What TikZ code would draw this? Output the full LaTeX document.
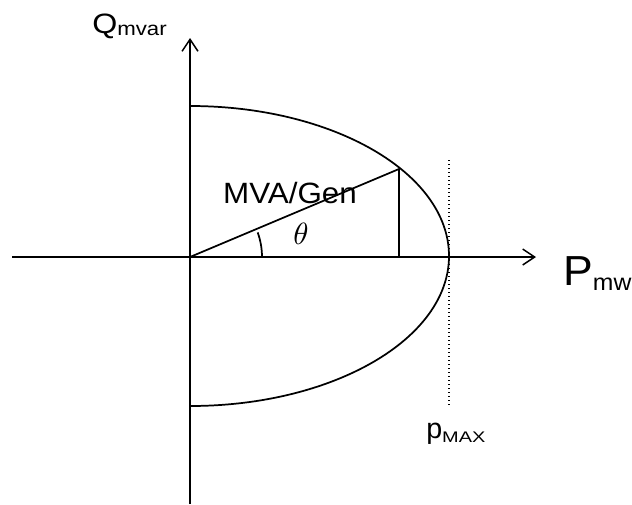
\documentclass[tikz,border=0pt]{standalone}
\usepackage{fontspec}
\setmainfont{Liberation Sans}
\usetikzlibrary{arrows.meta}
\begin{document}
\begin{tikzpicture}[x=0.75pt,y=-0.75pt,
  ax/.style={line width=1.3pt,-{Straight Barb[length=9pt,width=12pt,line width=1.1pt]}},
  ln/.style={line width=1.3pt},
  lbl/.style={inner sep=0pt,anchor=base west}]
\useasboundingbox (0,0) rectangle (632,504);
\coordinate (O) at (190,257);
\coordinate (xs) at (12,257);
\coordinate (xe) at (536,257);
\coordinate (ys) at (190,504);
\coordinate (ye) at (190,38);
\coordinate (P) at (399,169);
\coordinate (Pf) at (399,257);
\coordinate (Dt) at (449,160);
\coordinate (Db) at (449,405);
\draw[ax] (xs) -- (xe);
\draw[ax] (ys) -- (ye);
\draw[ln] (190,106) arc[start angle=-90,end angle=90,x radius=259,y radius=150];
\draw[ln] (O) -- (P) -- (Pf);
\draw[line width=1pt,dotted] (Dt) -- (Db);
\draw[ln] (262,257) arc[start angle=0,end angle=-20,radius=72];
\node[lbl,xscale=1.15] (q) at (92,33) {\fontsize{21}{21}\selectfont Q\raisebox{-1.5pt}{\fontsize{14.5}{14.5}\selectfont mvar}};
\node[lbl,xscale=1.06] (pmw) at (563,285) {\fontsize{31.5}{31.5}\selectfont P\raisebox{-3.75pt}{\fontsize{17.5}{17.5}\selectfont mw}};
\node[inner sep=0pt,xscale=1.07] (mva) at (290,193) {\fontsize{22}{22}\selectfont MVA/Gen};
\node[inner sep=0pt,scale=2.3] (th) at (301,234) {$\theta$};
\node[lbl] (pmax) at (426,438) {\fontsize{21.5}{21.5}\selectfont p\raisebox{-3pt}{\scalebox{1.3}[1]{\fontsize{11.5}{11.5}\selectfont MAX}}};
\end{tikzpicture}
\end{document}
